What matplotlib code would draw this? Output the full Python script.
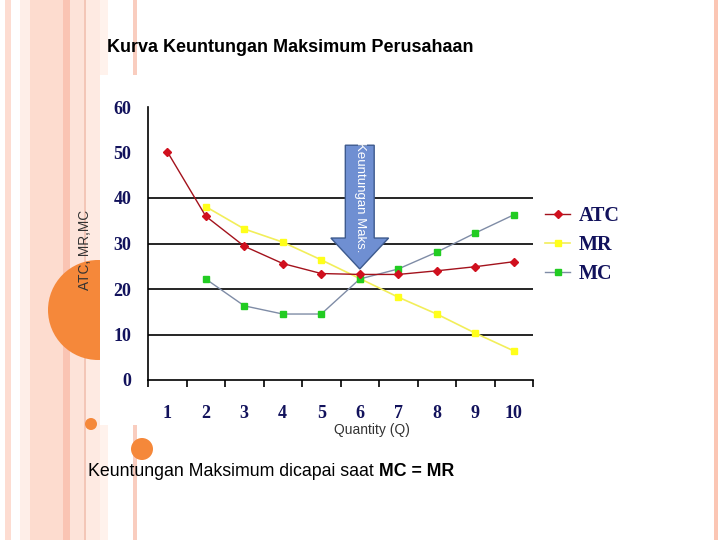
import matplotlib
matplotlib.use('Agg')
import matplotlib.pyplot as plt
from matplotlib.patches import Rectangle, Circle, FancyArrow
from matplotlib.lines import Line2D

# data
quantity = [1, 2, 3, 4, 5, 6, 7, 8, 9, 10]
atc = [50.2, 36.0, 29.4, 25.6, 23.4, 23.2, 23.2, 24.0, 24.9, 26.0]
mr_q = [2, 3, 4, 5, 6, 7, 8, 9, 10]
mr = [38.1, 33.2, 30.3, 26.4, 22.3, 18.2, 14.5, 10.3, 6.4]
mc_q = [2, 3, 4, 5, 6, 7, 8, 9, 10]
mc = [22.2, 16.3, 14.5, 14.5, 22.2, 24.4, 28.1, 32.3, 36.3]
y_ticks = [0, 10, 20, 30, 40, 50, 60]
grid_levels = [10, 20, 30, 40]
profit_q = 6

NAVY = '#12125c'
SERIF = ['Liberation Serif', 'DejaVu Serif']
SANS = ['Liberation Sans', 'DejaVu Sans']

fig = plt.figure(figsize=(7.2, 5.4), dpi=100)

# slide background decoration, in pixel coords
bg = fig.add_axes([0, 0, 1, 1], zorder=0)
bg.set_xlim(0, 720)
bg.set_ylim(540, 0)
bg.axis('off')
stripes = [(5, 11, '#fddcd1'), (20, 30, '#feeee8'), (30, 63, '#fddccf'),
           (63, 70, '#fac4b3'), (70, 84, '#fde3d9'), (84, 85.5, '#f3c6b7'),
           (85.5, 100, '#feeae2'), (100, 108, '#fff2ec'), (133, 137, '#f9cdbf'),
           (714, 718, '#fbc6b4')]
for x0, x1, c in stripes:
    bg.add_patch(Rectangle((x0, 0), x1 - x0, 540, color=c, lw=0, zorder=1))
bg.add_patch(Circle((98, 310), 50, color='#f5883a', lw=0, zorder=2))
bg.add_patch(Rectangle((100, 75), 450, 350, color='white', lw=0, zorder=3))
bg.add_patch(Circle((91, 424), 6, color='#f5883a', lw=0, zorder=4))
bg.add_patch(Circle((142, 449), 11, color='#f5883a', lw=0, zorder=4))

bg.text(107, 47, 'Kurva Keuntungan Maksimum Perusahaan', fontsize=13,
        fontweight='bold', family=SANS, ha='left', va='center', zorder=5)
t1 = bg.text(88, 471, 'Keuntungan Maksimum dicapai saat ', fontsize=12.8,
             family=SANS, ha='left', va='center', zorder=5)
bg.annotate('MC = MR', xy=(1, 0), xycoords=t1, fontsize=12.8, family=SANS,
            fontweight='bold', ha='left', va='bottom', zorder=5)
bg.text(85, 250, 'ATC, MR,MC', fontsize=9.8, family=SANS, color='#333333',
        rotation=90, ha='center', va='center', zorder=5)
bg.text(372, 430, 'Quantity (Q)', fontsize=10, family=SANS, color='#333333',
        ha='center', va='center', zorder=5)

# chart
ax = fig.add_axes([148 / 720, 160 / 540, 385 / 720, 273 / 540], zorder=2)
ax.patch.set_alpha(0)
ax.set_xlim(0.5, 10.5)
ax.set_ylim(0, 60)
for s in ['top', 'right']:
    ax.spines[s].set_visible(False)
for s in ['left', 'bottom']:
    ax.spines[s].set_linewidth(1.2)
for g in grid_levels:
    ax.axhline(g, color='black', lw=1.2, zorder=1)

ax.plot(quantity, atc, color='#a3121c', lw=1, marker='D', ms=4.5,
        mfc='#d0101e', mec='#d0101e', zorder=4)
ax.plot(mr_q, mr, color='#f2ee5a', lw=1.2, marker='s', ms=5,
        mfc='#ffff1a', mec='#ffff1a', zorder=3)
ax.plot(mc_q, mc, color='#7f8ca6', lw=1, marker='s', ms=5,
        mfc='#22cc22', mec='#22cc22', zorder=3)

ax.set_yticks(y_ticks)
ax.set_yticks([0] + grid_levels, minor=True)
ax.set_xticks(quantity)
ax.set_xticks([q - 0.5 for q in quantity] + [quantity[-1] + 0.5], minor=True)
ax.tick_params(axis='x', which='major', length=0, pad=18)
ax.tick_params(axis='x', which='minor', length=5, width=1.2, direction='out')
ax.tick_params(axis='y', which='major', length=0, pad=12)
ax.tick_params(axis='y', which='minor', length=4, width=1.2, direction='out')
for lab in ax.get_xticklabels() + ax.get_yticklabels():
    lab.set_family(SERIF)
    lab.set_fontweight('bold')
    lab.set_fontsize(13)
    lab.set_color(NAVY)

# arrow marking the maximum-profit point
arrow_top, arrow_tip = 51.6, 24.4
ax.add_patch(FancyArrow(profit_q, arrow_top, 0, arrow_tip - arrow_top,
                        width=0.75, head_width=1.5, head_length=6.8,
                        length_includes_head=True, fc='#6f8fd2', ec='#3d5a8e',
                        lw=1, zorder=6))
ax.text(profit_q, arrow_top + 0.8, 'Keuntungan Maks.', rotation=-90,
        fontsize=9.5, family=SANS, color='white', ha='center', va='top',
        zorder=7)

handles = [
    Line2D([], [], color='#a3121c', lw=1, marker='D', ms=4, mfc='#d0101e', mec='#d0101e'),
    Line2D([], [], color='#f2ee5a', lw=1.2, marker='s', ms=4.5, mfc='#ffff1a', mec='#ffff1a'),
    Line2D([], [], color='#7f8ca6', lw=1, marker='s', ms=4.5, mfc='#22cc22', mec='#22cc22'),
]
leg = ax.legend(handles, ['ATC', 'MR', 'MC'], loc='center left',
                bbox_to_anchor=(527 / 720, (540 - 245) / 540),
                bbox_transform=fig.transFigure, frameon=False,
                prop={'family': SERIF, 'weight': 'bold', 'size': 14.5},
                handlelength=1.25, handletextpad=0.4, labelspacing=0.45)
for t in leg.get_texts():
    t.set_color(NAVY)

fig.savefig('out.png', dpi=100)
